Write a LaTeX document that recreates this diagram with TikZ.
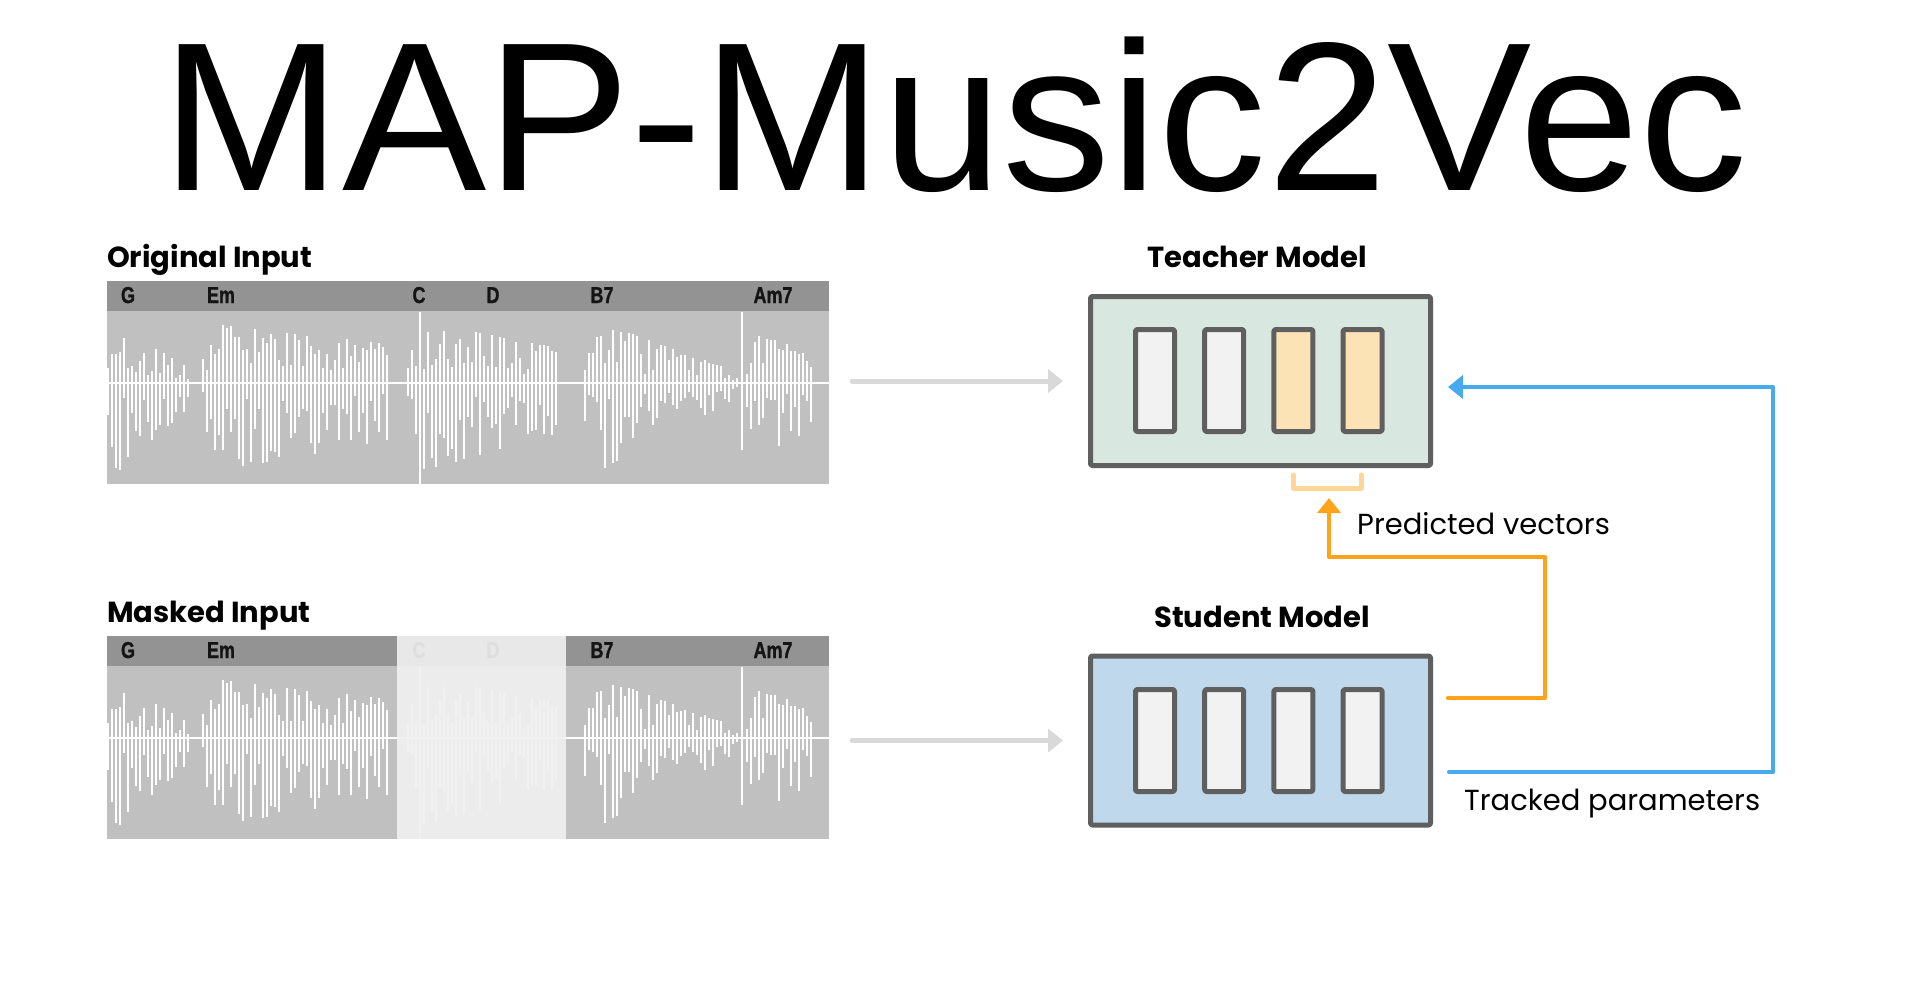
\documentclass[tikz,border=0pt]{standalone}
\usepackage{fontspec}
\setmainfont{Poppins}
\newfontfamily\titlefont[FakeStretch=1.02]{Liberation Sans}
\newfontfamily\chordfont[FakeStretch=0.78,FakeBold=1.2]{Liberation Sans Bold}
\usetikzlibrary{arrows.meta,calc}
\definecolor{panelgray}{HTML}{C0C0C0}
\definecolor{chordgray}{HTML}{939393}
\definecolor{chordtext}{HTML}{141414}
\definecolor{maskgray}{HTML}{F0F0F0}
\definecolor{edgegray}{HTML}{5F5F5F}
\definecolor{cellgray}{HTML}{F2F2F2}
\definecolor{cellpeach}{HTML}{FCE3B6}
\definecolor{teachfill}{HTML}{D9E7E1}
\definecolor{studfill}{HTML}{C0D8EB}
\definecolor{feedgray}{HTML}{D9D9D9}
\definecolor{predorange}{HTML}{FFA41A}
\definecolor{brkorange}{HTML}{FFD699}
\definecolor{trackblue}{HTML}{47A9EE}

% one audio strip: chord bar, waveform, chord names (#1 = name prefix)
\newcommand{\audiopanel}[1]{%
  \node[panel] (#1panel) at (468,382.5) {};
  \fill[chordgray] (107,281) rectangle (829,311);
  \draw[white,line width=2pt,line cap=butt] (107,383) -- (829,383);
  \pgfmathsetseed{2023}
  \foreach \ws/\we/\wu/\wdown/\wk in {108/189/62/98/0.75,203/387/60/90/0.35,408/557/64/92/0.45,585/740/66/95/0.85,747/813/52/78/0.4}{
    \pgfmathtruncatemacro\wn{(\we-\ws)/4}
    \foreach \wi in {0,...,\wn}{
      \pgfmathsetmacro\wx{\ws+4*\wi}
      \pgfmathsetmacro\wt{4*\wi/(\we-\ws)}
      \pgfmathsetmacro\wenv{min(1,0.4+\wt*7)*(1-\wk*\wt)}
      \pgfmathsetmacro\wup{\wenv*\wu*min(1,0.2+rnd)}
      \pgfmathsetmacro\wlo{\wenv*\wdown*min(1,0.15+0.95*rnd)}
      \fill[white] (\wx-1.2,383-\wup) rectangle (\wx+1.2,383+\wlo);
    }
  }
  \draw[white,line width=2pt,line cap=butt] (420,312) -- (420,484);
  \draw[white,line width=2pt,line cap=butt] (742,312) -- (742,450);
  \foreach \xc/\ch in {128/G,221/Em,419/C,493/D,602/B7,773/Am7}
    \node[chord] (#1\ch) at (\xc,303) {\ch};
}

\begin{document}
\begin{tikzpicture}[x=1pt,y=-1pt,>={Triangle[length=15pt,width=23pt]},line join=round,
  panel/.style={fill=panelgray,inner sep=0,minimum width=722pt,minimum height=203pt},
  chord/.style={font=\chordfont\fontsize{23pt}{23pt}\selectfont,text=chordtext,inner sep=0,anchor=base},
  headtext/.style={font=\bfseries\fontsize{29pt}{29pt}\selectfont,inner sep=0},
  notetext/.style={font=\fontsize{29pt}{29pt}\selectfont,inner sep=0,anchor=base west},
  modelbox/.style={draw=edgegray,line width=5pt,rounded corners=2pt,inner sep=0,minimum width=340pt,minimum height=169pt},
  cell/.style={draw=edgegray,line width=5pt,rounded corners=2pt,inner sep=0,minimum width=39pt,minimum height=102pt},
  feed/.style={draw=feedgray,line width=5pt,line cap=round,->,shorten <=23pt,shorten >=25pt},
  pred/.style={draw=predorange,line width=4.5pt,line cap=round,->},
  track/.style={draw=trackblue,line width=4pt,line cap=round,->}]
\fill[white] (0,0) rectangle (1908,980);
\useasboundingbox (0,0) rectangle (1908,980);

\node[font=\titlefont\fontsize{212pt}{212pt}\selectfont,inner sep=0,anchor=base] (title) at (955,190) {MAP-Music2Vec};

% inputs
\node[headtext,anchor=base west] (origlab) at (107,267) {Original Input};
\audiopanel{o}
\begin{scope}[shift={(0,355)}]
  \node[headtext,anchor=base west] (masklab) at (107,267) {Masked Input};
  \audiopanel{m}
  \fill[maskgray,opacity=0.92] (397,281) rectangle (566,484);
\end{scope}

% models
\node[headtext,anchor=base] (teachlab) at (1257,267) {Teacher Model};
\node[modelbox,fill=teachfill] (teacher) at (1260.5,381) {};
\foreach \i/\cc in {0/cellgray,1/cellgray,2/cellpeach,3/cellpeach}
  \node[cell,fill=\cc] (t\i) at (1155+69.2*\i,380.5) {};

\node[headtext,anchor=base] (studlab) at (1262,627) {Student Model};
\node[modelbox,fill=studfill] (student) at (1260.5,740.5) {};
\foreach \i in {0,...,3}
  \node[cell,fill=cellgray] (s\i) at (1155+69.2*\i,740.5) {};

% bracket under the predicted cells
\coordinate (brk) at (1329,488.5);
\draw[brkorange,line width=5pt,line cap=round] (1293.5,475) |- (brk) -| (1361.5,475);

\draw[feed] (opanel.east |- teacher.west) -- (teacher.west);
\draw[feed] (mpanel.east |- student.west) -- (student.west);

\coordinate (po) at ($(student.east)+(15,-42.5)$);
\coordinate (pb) at ($(student.east)+(16,31.5)$);
\coordinate (tin) at ($(teacher.east)+(15,6)$);
\draw[pred,shorten >=9.5pt] (po) -| (1545,557) -| (brk);
\draw[track] (pb) -| (1773,387) -- (tin);

\node[notetext] (predlab) at (1357,534) {Predicted vectors};
\node[notetext] (tracklab) at (1464,810) {Tracked parameters};
\end{tikzpicture}
\end{document}
